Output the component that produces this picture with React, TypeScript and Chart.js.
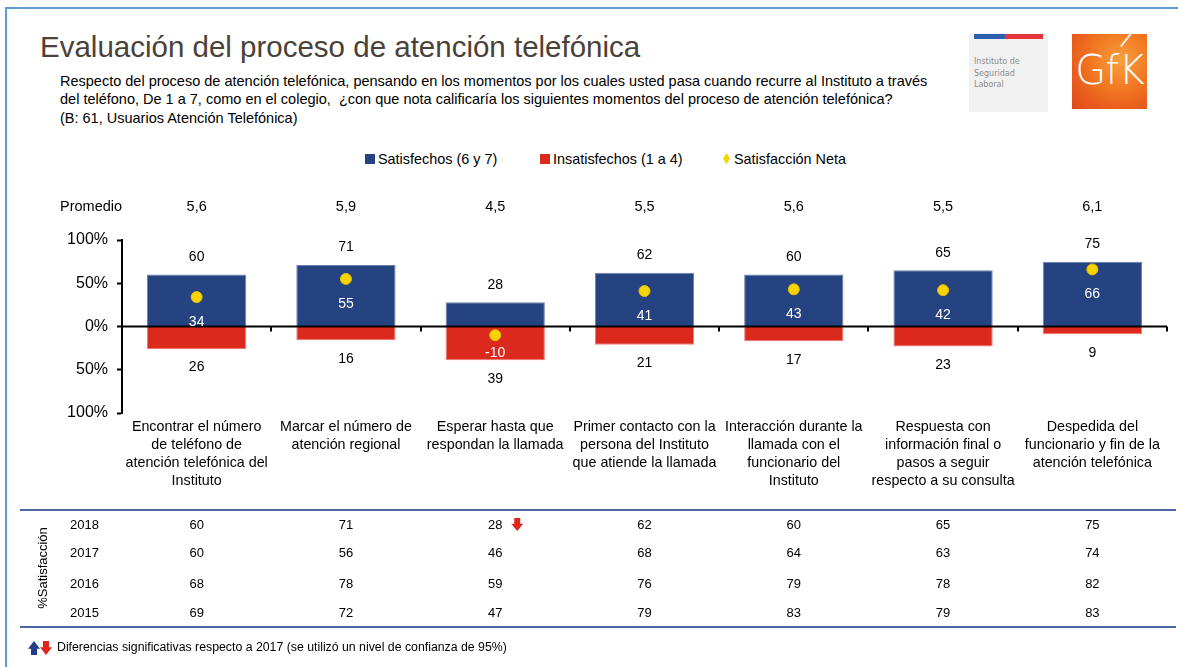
import React, { useEffect, useRef } from "react";
import { Chart, registerables } from "chart.js";

Chart.register(...registerables);

const FONT = "'Liberation Sans', Arial, Helvetica, sans-serif";

const categories: string[][] = [
  ["Encontrar el número", "de teléfono de", "atención telefónica del", "Instituto"],
  ["Marcar el número de", "atención regional"],
  ["Esperar hasta que", "respondan la llamada"],
  ["Primer contacto con la", "persona del Instituto", "que atiende la llamada"],
  ["Interacción durante la", "llamada con el", "funcionario del", "Instituto"],
  ["Respuesta con", "información final o", "pasos a seguir", "respecto a su consulta"],
  ["Despedida del", "funcionario y fin de la", "atención telefónica"],
];

const satisfechos = [60, 71, 28, 62, 60, 65, 75];
const insatisfechos = [26, 16, 39, 21, 17, 23, 9];
const neta = [34, 55, -10, 41, 43, 42, 66];
const promedio = ["5,6", "5,9", "4,5", "5,5", "5,6", "5,5", "6,1"];

const years = ["2018", "2017", "2016", "2015"];
const sat2018 = [60, 71, 28, 62, 60, 65, 75];
const sat2017 = [60, 56, 46, 68, 64, 63, 74];
const sat2016 = [68, 78, 59, 76, 79, 78, 82];
const sat2015 = [69, 72, 47, 79, 83, 79, 83];
const signif2018 = [0, 0, -1, 0, 0, 0, 0];

const BLUE = "#264381";
const RED = "#DC291E";
const YELLOW = "#F7D300";

function drawArrow(ctx: CanvasRenderingContext2D, cx: number, top: number, w: number, h: number, up: boolean, color: string) {
  const stemW = w * 0.5;
  const headH = h * 0.55;
  ctx.save();
  ctx.fillStyle = color;
  ctx.beginPath();
  if (up) {
    ctx.moveTo(cx, top);
    ctx.lineTo(cx + w / 2, top + headH);
    ctx.lineTo(cx + stemW / 2, top + headH);
    ctx.lineTo(cx + stemW / 2, top + h);
    ctx.lineTo(cx - stemW / 2, top + h);
    ctx.lineTo(cx - stemW / 2, top + headH);
    ctx.lineTo(cx - w / 2, top + headH);
  } else {
    const b = top + h;
    ctx.moveTo(cx, b);
    ctx.lineTo(cx + w / 2, b - headH);
    ctx.lineTo(cx + stemW / 2, b - headH);
    ctx.lineTo(cx + stemW / 2, top);
    ctx.lineTo(cx - stemW / 2, top);
    ctx.lineTo(cx - stemW / 2, b - headH);
    ctx.lineTo(cx - w / 2, b - headH);
  }
  ctx.closePath();
  ctx.fill();
  ctx.restore();
}

const overlayPlugin = {
  id: "overlay",
  afterDatasetsDraw(chart: any) {
    const { ctx, chartArea, scales } = chart;
    const x = scales.x;
    const y = scales.y;
    const y0 = y.getPixelForValue(0);
    const n = categories.length;
    ctx.save();

    // zero axis line with category boundary ticks
    ctx.strokeStyle = "#000";
    ctx.lineWidth = 2;
    ctx.beginPath();
    ctx.moveTo(chartArea.left, y0);
    ctx.lineTo(chartArea.right, y0);
    ctx.stroke();
    for (let i = 1; i <= n; i++) {
      const bx = Math.round(x.getPixelForValue(i - 0.5));
      ctx.beginPath();
      ctx.moveTo(bx, y0);
      ctx.lineTo(bx, y0 + 5);
      ctx.stroke();
    }

    ctx.textAlign = "center";
    ctx.textBaseline = "middle";
    for (let i = 0; i < n; i++) {
      const cx = x.getPixelForValue(i);
      ctx.font = `14px ${FONT}`;
      ctx.fillStyle = "#000";
      ctx.fillText(String(satisfechos[i]), cx, y.getPixelForValue(satisfechos[i]) - 17.5);
      ctx.fillText(String(insatisfechos[i]), cx, y.getPixelForValue(-insatisfechos[i]) + 18.5);
      ctx.fillStyle = "#fff";
      const ny = y.getPixelForValue(neta[i]) + (neta[i] >= 0 ? 25 : 18);
      ctx.fillText(String(neta[i]), cx, ny);
      // promedio row
      ctx.fillStyle = "#000";
      ctx.font = `14.5px ${FONT}`;
      ctx.fillText(promedio[i], cx, 207);
    }
    ctx.textAlign = "left";
    ctx.font = `14.5px ${FONT}`;
    ctx.fillStyle = "#000";
    ctx.fillText("Promedio", 60, 207);

    // table
    ctx.strokeStyle = "#4A67A3";
    ctx.lineWidth = 2;
    ctx.beginPath();
    ctx.moveTo(20, 510);
    ctx.lineTo(1176, 510);
    ctx.moveTo(20, 627);
    ctx.lineTo(1176, 627);
    ctx.stroke();

    const rows = [sat2018, sat2017, sat2016, sat2015];
    const rowY = [525, 553, 584, 613];
    ctx.font = `13px ${FONT}`;
    rows.forEach((row, r) => {
      ctx.fillStyle = "#000";
      ctx.textAlign = "left";
      ctx.fillText(years[r], 70, rowY[r]);
      ctx.textAlign = "center";
      row.forEach((v, i) => {
        const cx = x.getPixelForValue(i);
        ctx.fillStyle = "#000";
        ctx.fillText(String(v), cx, rowY[r]);
        if (r === 0 && signif2018[i] !== 0) {
          const up = signif2018[i] > 0;
          drawArrow(ctx, cx + 22, rowY[r] - 7, 12, 13, up, up ? "#1F3F8A" : "#E0261B");
        }
      });
    });

    // rotated label
    ctx.save();
    ctx.fillStyle = "#000";
    ctx.translate(43, 568);
    ctx.rotate(-Math.PI / 2);
    ctx.textAlign = "center";
    ctx.fillText("%Satisfacción", 0, 0);
    ctx.restore();

    // footer
    drawArrow(ctx, 34, 641, 12, 14, true, "#1F3F8A");
    drawArrow(ctx, 46, 641, 12, 14, false, "#E0261B");
    ctx.font = `12.3px ${FONT}`;
    ctx.textAlign = "left";
    ctx.fillStyle = "#000";
    ctx.fillText("Diferencias significativas respecto a 2017 (se utilizó un nivel de confianza de 95%)", 57, 648);

    ctx.restore();
  },
};

export default function App() {
  const ref = useRef<HTMLCanvasElement>(null);

  useEffect(() => {
    if (!ref.current) return;
    Chart.defaults.font.family = FONT;
    const chart = new Chart(ref.current, {
      type: "bar",
      data: {
        labels: categories,
        datasets: [
          {
            type: "line",
            label: "Satisfacción Neta",
            data: neta,
            showLine: false,
            pointStyle: "circle",
            pointRadius: 5.5,
            pointHoverRadius: 5.5,
            backgroundColor: YELLOW,
            borderColor: "#E6BE00",
            borderWidth: 1,
            order: 0,
            stack: "net",
          } as any,
          {
            label: "Satisfechos (6 y 7)",
            data: satisfechos,
            backgroundColor: BLUE,
            borderColor: "#6E80B0",
            borderWidth: 1,
            order: 1,
            stack: "bars",
            barPercentage: 0.665,
            categoryPercentage: 1,
          },
          {
            label: "Insatisfechos (1 a 4)",
            data: insatisfechos.map((v) => -v),
            backgroundColor: RED,
            borderColor: "#EC7A72",
            borderWidth: 1,
            order: 1,
            stack: "bars",
            barPercentage: 0.665,
            categoryPercentage: 1,
          },
        ],
      },
      options: {
        responsive: false,
        animation: false,
        events: [],
        layout: { padding: { top: 240, left: 0, right: 11, bottom: 0 } },
        plugins: { legend: { display: false }, tooltip: { enabled: false }, title: { display: false } },
        scales: {
          x: {
            stacked: true,
            grid: { display: false, drawTicks: false },
            border: { display: false },
            ticks: {
              font: { size: 14.3, lineHeight: 1.26 },
              color: "#000",
              padding: 5,
              maxRotation: 0,
              minRotation: 0,
              autoSkip: false,
            },
            afterFit: (s: any) => {
              s.height = 254;
            },
          },
          y: {
            stacked: true,
            min: -100,
            max: 100,
            ticks: {
              stepSize: 50,
              callback: (v: any) => `${Math.abs(Number(v))}%`,
              font: { size: 16 },
              color: "#000",
              padding: 9,
            },
            grid: { drawOnChartArea: false, drawTicks: true, tickLength: 5, tickColor: "#000", tickWidth: 2 },
            border: { display: true, color: "#000", width: 2 },
            afterFit: (s: any) => {
              s.width = 122;
            },
          },
        },
      },
      plugins: [overlayPlugin],
    });
    return () => chart.destroy();
  }, []);

  const legendText: React.CSSProperties = { position: "absolute", top: 150, fontSize: 14.4, lineHeight: "18px", color: "#000", whiteSpace: "nowrap" };

  return (
    <div style={{ position: "absolute", left: 0, top: 0, width: 1178, height: 667, overflow: "hidden", background: "#fff", fontFamily: FONT }}>
      <div style={{ position: "absolute", left: 5, top: 7, width: 1300, height: 800, border: "2px solid #5E9AD6", boxSizing: "border-box" }} />
      <div style={{ position: "absolute", left: 40, top: 30, fontSize: 29.5, lineHeight: "34px", color: "#4A4238", whiteSpace: "nowrap" }}>
        Evaluación del proceso de atención telefónica
      </div>
      <div style={{ position: "absolute", left: 60, top: 73, fontSize: 14.5, lineHeight: "17.5px", color: "#000", whiteSpace: "pre" }}>
        <div>Respecto del proceso de atención telefónica, pensando en los momentos por los cuales usted pasa cuando recurre al Instituto a través</div>
        <div>del teléfono, De 1 a 7, como en el colegio,  ¿con que nota calificaría los siguientes momentos del proceso de atención telefónica?</div>
        <div style={{ marginTop: 1.5 }}>(B: 61, Usuarios Atención Telefónica)</div>
      </div>

      {/* Instituto logo */}
      <div style={{ position: "absolute", left: 969, top: 33, width: 79, height: 79, background: "#F1F1F1" }}>
        <div style={{ position: "absolute", left: 5, top: 1, width: 31, height: 5, background: "#2A62B0" }} />
        <div style={{ position: "absolute", left: 36, top: 1, width: 38, height: 5, background: "#E8343E" }} />
        <div style={{ position: "absolute", left: 5, top: 23, fontSize: 8, lineHeight: "11.5px", color: "#8C8C8C", fontFamily: "'DejaVu Sans', sans-serif", whiteSpace: "pre" }}>
          {"Instituto de\nSeguridad\nLaboral"}
        </div>
      </div>

      {/* GfK logo */}
      <div
        style={{
          position: "absolute",
          left: 1072,
          top: 34,
          width: 75,
          height: 75,
          background: "radial-gradient(circle at 65% 35%, #F8A040 0%, #F27A22 40%, #E85A1C 75%, #E04A1A 100%)",
          overflow: "hidden",
        }}
      >
        <div style={{ position: "absolute", left: 48, top: 12, width: 34, height: 1.5, background: "rgba(255,255,255,0.85)", transform: "rotate(-52deg)", transformOrigin: "0 0" }} />
        <div style={{ position: "absolute", left: 0, top: 14, width: 75, textAlign: "center", color: "#fff", fontSize: 40, lineHeight: "44px", fontFamily: "'DejaVu Sans', sans-serif", fontWeight: 300, letterSpacing: -1 }}>
          GfK
        </div>
      </div>

      {/* legend */}
      <div style={{ position: "absolute", left: 365, top: 154, width: 10, height: 10, background: BLUE }} />
      <div style={{ ...legendText, left: 378 }}>Satisfechos (6 y 7)</div>
      <div style={{ position: "absolute", left: 540, top: 154, width: 10, height: 10, background: RED }} />
      <div style={{ ...legendText, left: 553 }}>Insatisfechos (1 a 4)</div>
      <div style={{ position: "absolute", left: 723, top: 153, width: 7, height: 11, background: YELLOW, clipPath: "polygon(50% 0, 100% 50%, 50% 100%, 0 50%)" }} />
      <div style={{ ...legendText, left: 734 }}>Satisfacción Neta</div>

      <canvas ref={ref} width={1178} height={667} style={{ position: "absolute", left: 0, top: 0 }} />
    </div>
  );
}
